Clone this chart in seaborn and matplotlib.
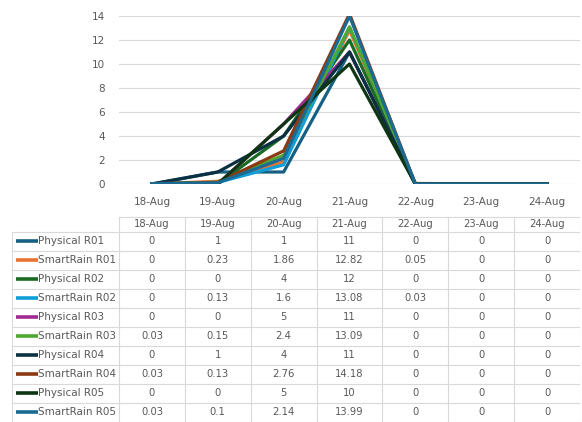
import numpy as np
import pandas as pd
import matplotlib
matplotlib.use("Agg")
import matplotlib.pyplot as plt
import seaborn as sns

days = ["18-Aug", "19-Aug", "20-Aug", "21-Aug", "22-Aug", "23-Aug", "24-Aug"]
series = ["Physical R01", "SmartRain R01", "Physical R02", "SmartRain R02",
          "Physical R03", "SmartRain R03", "Physical R04", "SmartRain R04",
          "Physical R05", "SmartRain R05"]
physical_r01 = [0, 1, 1, 11, 0, 0, 0]
smartrain_r01 = [0, 0.23, 1.86, 12.82, 0.05, 0, 0]
physical_r02 = [0, 0, 4, 12, 0, 0, 0]
smartrain_r02 = [0, 0.13, 1.6, 13.08, 0.03, 0, 0]
physical_r03 = [0, 0, 5, 11, 0, 0, 0]
smartrain_r03 = [0.03, 0.15, 2.4, 13.09, 0, 0, 0]
physical_r04 = [0, 1, 4, 11, 0, 0, 0]
smartrain_r04 = [0.03, 0.13, 2.76, 14.18, 0, 0, 0]
physical_r05 = [0, 0, 5, 10, 0, 0, 0]
smartrain_r05 = [0.03, 0.1, 2.14, 13.99, 0, 0, 0]
values = [physical_r01, smartrain_r01, physical_r02, smartrain_r02, physical_r03,
          smartrain_r03, physical_r04, smartrain_r04, physical_r05, smartrain_r05]
colors = ["#156082", "#E97132", "#196B24", "#0F9ED5", "#A02B93",
          "#4EA72E", "#0B3041", "#8B3A12", "#0D3512", "#1B6A94"]

# long table for seaborn
rows = []
for name, vals in zip(series, values):
    for i, v in enumerate(vals):
        rows.append({"series": name, "x": i, "value": v})
df = pd.DataFrame(rows)

W, H = 582, 422
fig = plt.figure(figsize=(W / 100, H / 100), dpi=100)
grey = "#595959"
gridc = "#d9d9d9"

# chart area (pixel positions from the reference)
x0, x1 = 119, 580
ax = fig.add_axes([x0 / W, 1 - 184 / H, (x1 - x0) / W, 168 / H])
sns.lineplot(data=df, x="x", y="value", hue="series", hue_order=series,
             palette=colors, linewidth=2.3, legend=False, ax=ax)
ax.set_xlim(-0.5, 6.5)
ax.set_ylim(0, 14)
ax.set_yticks(range(0, 15, 2))
ax.set_xticks(range(len(days)))
ax.set_xticklabels(days)
ax.grid(axis="y", color=gridc, linewidth=0.8)
ax.set_axisbelow(True)
for s in ax.spines.values():
    s.set_visible(False)
ax.tick_params(length=0, colors=grey, labelsize=7.5, pad=9)
ax.tick_params(axis="y", pad=10)
ax.set_xlabel("")
ax.set_ylabel("")

# data table below
tl = 12
step = (x1 - x0) / 7
left_data = -0.5 - (x0 - tl) / step
tax = fig.add_axes([tl / W, 0, (x1 - tl) / W, (H - 216) / H])
tax.set_xlim(left_data, 6.5)
tax.set_ylim(H, 216)
tax.axis("off")
hdr_top, hdr_bot, rh = 217, 232, 19
# horizontal lines
tax.plot([-0.5, 6.5], [hdr_top, hdr_top], color=gridc, lw=0.8)
for r in range(len(series) + 1):
    y = hdr_bot + r * rh
    tax.plot([left_data, 6.5], [y, y], color=gridc, lw=0.8)
# vertical lines
for i in range(8):
    tax.plot([i - 0.5, i - 0.5], [hdr_top, H], color=gridc, lw=0.8)
tax.plot([left_data + 0.005, left_data + 0.005], [hdr_bot, H], color=gridc, lw=0.8)
for i, d in enumerate(days):
    tax.text(i, (hdr_top + hdr_bot) / 2, d, ha="center", va="center",
             color=grey, fontsize=7.2)
for r, (name, vals, c) in enumerate(zip(series, values, colors)):
    yc = hdr_bot + r * rh + rh / 2
    tax.plot([left_data + 0.06, left_data + 0.4], [yc, yc], color=c, lw=2.6,
             solid_capstyle="butt")
    tax.text(left_data + 0.4, yc, name, ha="left", va="center",
             color=grey, fontsize=7.5)
    for i, v in enumerate(vals):
        tax.text(i, yc, f"{v:g}", ha="center", va="center", color=grey, fontsize=7.2)

fig.savefig("out.png", dpi=100)
